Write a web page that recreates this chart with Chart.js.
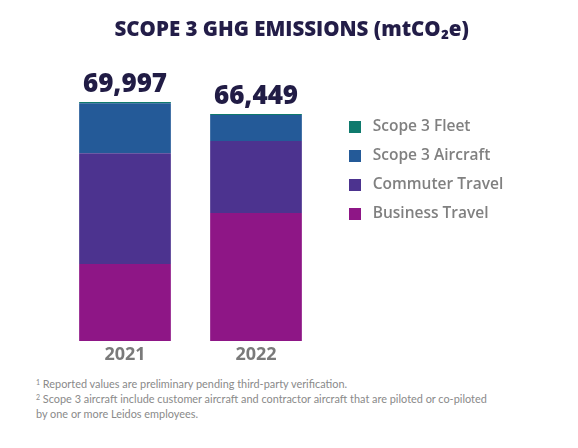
<!DOCTYPE html>
<html>
<head>
<meta charset="utf-8">
<script src="https://cdn.jsdelivr.net/npm/chart.js@4"></script>
<style>
  html, body { margin: 0; padding: 0; background: #ffffff; overflow: hidden; }
  #wrap { position: relative; width: 578px; height: 448px; }
  #chartBox { position: absolute; left: 0; top: 0; width: 578px; height: 370px; }
  #notes { position: absolute; left: 36px; top: 376px; font-family: Lato, "Open Sans", sans-serif; font-size: 10.9px; line-height: 15px; color: #8a8a8a; }
  #notes div { height: 15px; white-space: nowrap; }
  #notes .s { position: relative; top: -3px; font-size: 7px; line-height: 0; }
</style>
</head>
<body>
<div id="wrap">
  <div id="chartBox"><canvas id="c"></canvas></div>
  <div id="notes">
    <div><span class="s">1</span> Reported values are preliminary pending third-party verification.</div>
    <div><span class="s">2</span> Scope 3 aircraft include customer aircraft and contractor aircraft that are piloted or co-piloted</div>
    <div>by one or more Leidos employees.</div>
  </div>
</div>
<script>
const categories = ['2021', '2022'];
const businessTravel = [22552, 37479];
const commuterTravel = [32415, 21090];
const scope3Aircraft = [14680, 7580];
const scope3Fleet = [350, 300];
const totals = [69997, 66449];
const seriesNames = ['Business Travel', 'Commuter Travel', 'Scope 3 Aircraft', 'Scope 3 Fleet'];
const seriesColors = ['#8e1686', '#4c338f', '#245a98', '#0f7a6d'];
const titleText = 'SCOPE 3 GHG EMISSIONS (mtCO₂e)';

const legendFontSize = 15.5;
const legendFont = { family: '"Open Sans", sans-serif', size: legendFontSize, weight: '600' };
const legendPad = 13.5;
const markerW = 30;   // legend marker cell: blank + 12px square + blank
const legendLeft = 321.5;

function makeMarker(color) {
  const c = document.createElement('canvas');
  c.width = markerW; c.height = 12;
  const g = c.getContext('2d');
  g.fillStyle = color;
  g.fillRect(14, 0, 12, 12);
  return c;
}
const markers = seriesColors.map(makeMarker);

// measure legend text to place the legend
const mctx = document.createElement('canvas').getContext('2d');
mctx.font = '600 ' + legendFontSize + 'px "Open Sans", sans-serif';
let maxW = 0;
seriesNames.forEach(n => { maxW = Math.max(maxW, mctx.measureText(n).width); });
const legendNaturalW = legendPad + markerW + legendFontSize / 2 + maxW + 10;
const padRight = Math.max(0, 578 - legendLeft - legendNaturalW);

// centre the title on x = 291 by padding it with leading spaces
mctx.font = '800 20.5px "Open Sans", sans-serif';
const boxCenter = (59.5 + 578 - padRight) / 2;
const spaceW = mctx.measureText(' ').width;
const nSpaces = Math.max(0, Math.round(2 * (291 - boxCenter) / spaceW));
const shownTitle = ' '.repeat(nSpaces) + titleText;

const totalsPlugin = {
  id: 'totals',
  afterDatasetsDraw(chart) {
    const ctx = chart.ctx;
    const topMeta = chart.getDatasetMeta(chart.data.datasets.length - 1);
    ctx.save();
    ctx.font = '800 26px "Open Sans", sans-serif';
    ctx.fillStyle = '#211c45';
    ctx.textAlign = 'center';
    ctx.textBaseline = 'alphabetic';
    topMeta.data.forEach((el, i) => {
      ctx.fillText(totals[i].toLocaleString('en-US'), el.x, el.y - 10);
    });
    ctx.restore();
  }
};

const datasets = [businessTravel, commuterTravel, scope3Aircraft, scope3Fleet].map((d, i) => ({
  label: seriesNames[i],
  data: d,
  backgroundColor: seriesColors[i],
  borderWidth: 0,
  barPercentage: 0.7,
  categoryPercentage: 1.0
}));

new Chart(document.getElementById('c'), {
  type: 'bar',
  data: { labels: categories, datasets },
  plugins: [totalsPlugin],
  options: {
    responsive: true,
    maintainAspectRatio: false,
    animation: false,
    layout: { padding: { left: 59.5, right: padRight, top: 0, bottom: 1 } },
    scales: {
      x: {
        stacked: true,
        grid: { display: false, drawTicks: false },
        border: { display: false },
        ticks: { color: '#7a7a7a', padding: 3.2, font: { family: '"Open Sans", sans-serif', size: 18, weight: 'bold' } }
      },
      y: {
        stacked: true,
        display: false,
        min: 0,
        max: 80000
      }
    },
    plugins: {
      title: {
        display: true,
        text: shownTitle,
        color: '#231d48',
        font: { family: '"Open Sans", sans-serif', size: 20.5, weight: '800' },
        padding: { top: 18, bottom: 25.2 }
      },
      legend: {
        position: 'right',
        align: 'start',
        reverse: true,
        maxWidth: 300,
        title: { display: true, text: ' ', font: { size: 10 }, padding: { top: 93.5, bottom: 0 } },
        labels: {
          usePointStyle: true,
          pointStyleWidth: markerW,
          boxHeight: 12,
          padding: legendPad,
          color: '#808080',
          font: legendFont,
          generateLabels(chart) {
            const items = Chart.defaults.plugins.legend.labels.generateLabels(chart);
            items.forEach(it => { it.pointStyle = markers[it.datasetIndex]; it.lineWidth = 0; });
            return items;
          }
        }
      },
      tooltip: { enabled: false }
    }
  }
});
</script>
</body>
</html>
